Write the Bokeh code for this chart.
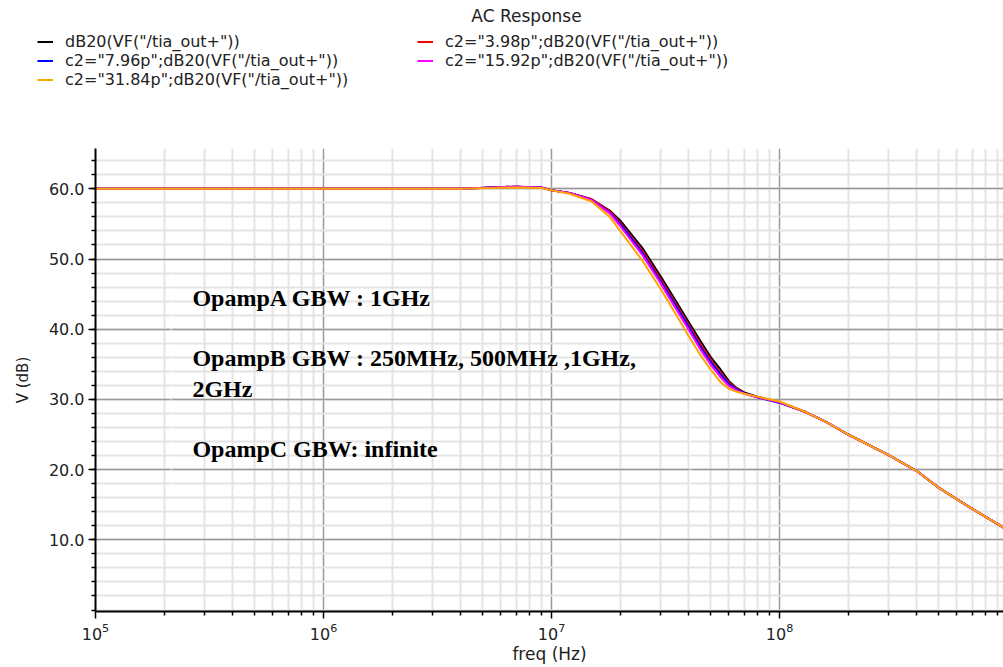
from bokeh.plotting import figure
from bokeh.layouts import column
from bokeh.models import (Legend, LegendItem, BoxAnnotation, Label, FixedTicker,
                          LogTickFormatter, PrintfTickFormatter)
from bokeh.embed import file_html
from bokeh.resources import INLINE

# ---------------- data ----------------
freq_hz = [1e5, 1e6, 4e6, 5.5e6, 7e6, 9e6, 1e7, 1.2e7, 1.5e7, 1.8e7, 2e7, 2.5e7,
           3e7, 3.5e7, 4e7, 4.5e7, 5e7, 5.5e7, 6e7, 6.5e7, 7e7, 8e7, 1e8, 1.3e8,
           1.6e8, 2e8, 3e8, 4e8, 5e8, 7e8, 1e9]

db_base = [60.0, 60.0, 60.0, 60.2, 60.3, 60.2, 59.8, 59.4, 58.5, 56.9, 55.5, 51.6,
           47.6, 44.1, 41.0, 38.3, 36.0, 34.3, 32.6, 31.6, 31.0, 30.4, 29.6, 28.2,
           26.8, 25.0, 22.1, 19.8, 17.4, 14.4, 11.4]
db_c2_3p98 = [60.0, 60.0, 60.0, 60.2, 60.3, 60.2, 59.8, 59.4, 58.5, 56.8, 55.2, 51.2,
              47.2, 43.7, 40.6, 37.9, 35.6, 33.9, 32.4, 31.5, 30.9, 30.3, 29.6, 28.2,
              26.8, 25.0, 22.1, 19.8, 17.4, 14.4, 11.4]
db_c2_7p96 = [60.0, 60.0, 60.0, 60.2, 60.3, 60.2, 59.8, 59.4, 58.4, 56.6, 55.0, 50.9,
              46.9, 43.4, 40.3, 37.5, 35.3, 33.6, 32.2, 31.4, 30.9, 30.3, 29.5, 28.2,
              26.8, 25.0, 22.1, 19.8, 17.4, 14.4, 11.4]
db_c2_15p92 = [60.0, 60.0, 60.0, 60.2, 60.3, 60.2, 59.8, 59.4, 58.4, 56.5, 54.7, 50.6,
               46.6, 43.0, 39.9, 37.1, 34.9, 33.2, 31.9, 31.3, 30.8, 30.3, 29.6, 28.2,
               26.8, 25.0, 22.1, 19.8, 17.4, 14.4, 11.4]
db_c2_31p84 = [60.0, 60.0, 60.0, 60.1, 60.2, 60.1, 59.8, 59.3, 58.2, 56.0, 54.0, 49.8,
               45.8, 42.2, 39.0, 36.3, 34.2, 32.5, 31.5, 31.1, 30.8, 30.4, 29.7, 28.2,
               26.8, 25.0, 22.1, 19.8, 17.4, 14.4, 11.4]

series_values = [db_base, db_c2_3p98, db_c2_7p96, db_c2_15p92, db_c2_31p84]
series_labels = ['dB20(VF("/tia_out+"))',
                 'c2="3.98p";dB20(VF("/tia_out+"))',
                 'c2="7.96p";dB20(VF("/tia_out+"))',
                 'c2="15.92p";dB20(VF("/tia_out+"))',
                 'c2="31.84p";dB20(VF("/tia_out+"))']
series_colors = ["#000000", "#ff0000", "#0000ff", "#ff00ff", "#ffa500"]

y_ticks = [10, 20, 30, 40, 50, 60]
x_ticks = [1e5, 1e6, 1e7, 1e8, 1e9]
note_lines = ["OpampA GBW : 1GHz",
              "OpampB GBW : 250MHz, 500MHz ,1GHz,",
              "2GHz",
              "OpampC GBW:  infinite"]
title_text = "AC Response"

FONT = "DejaVu Sans"
TXT = "#222222"
W, TOP_H, H = 1003, 148, 667

# ---------------- header strip: title + legend ----------------
head = figure(width=W, height=TOP_H, x_range=(0, W), y_range=(0, TOP_H),
              output_backend="svg", toolbar_location=None, title=None,
              min_border=0, x_axis_type=None, y_axis_type=None)
head.frame_align = False
head.outline_line_color = None
head.xgrid.visible = False
head.ygrid.visible = False
head.background_fill_color = "white"
head.border_fill_color = "white"

items = []
for vals, lab, col in zip(series_values, series_labels, series_colors):
    # same series; lies outside this strip's x range, only feeds the legend glyphs
    r = head.line(freq_hz, vals, line_color=col, line_width=2)
    items.append(LegendItem(label=lab, renderers=[r]))

legend = Legend(items=items, orientation="horizontal", ncols=2,
                location=(37, 59), padding=0, margin=0, spacing=0,
                glyph_width=16, glyph_height=15, label_standoff=12,
                label_width=352, label_height=15,
                label_text_font=FONT, label_text_font_size="16px",
                label_text_color=TXT, background_fill_alpha=0,
                border_line_color=None)
head.add_layout(legend, "center")

head.add_layout(Label(x=526, y=TOP_H - 15, text=title_text, text_font=FONT,
                      text_font_size="17px", text_color=TXT, text_align="center",
                      text_baseline="middle"))

# ---------------- main plot ----------------
p = figure(width=W, height=H - TOP_H, x_axis_type="log",
           x_range=(1e5, 9.6e8), y_range=(-0.21, 65.74),
           output_backend="svg", toolbar_location=None, title=None,
           min_border_left=95, min_border_right=0, min_border_top=0,
           min_border_bottom=56)
p.frame_align = False
p.outline_line_color = None
p.background_fill_color = "white"
p.border_fill_color = "white"

x_minor = [k * d for d in [1e5, 1e6, 1e7, 1e8] for k in range(2, 10)]
y_minor = list(range(0, 66, 2))
xt = FixedTicker(ticks=x_ticks, minor_ticks=x_minor)
yt = FixedTicker(ticks=y_ticks, minor_ticks=y_minor)

p.xaxis.ticker = xt
p.yaxis.ticker = yt
p.xgrid.ticker = xt
p.ygrid.ticker = yt
p.xaxis.formatter = LogTickFormatter()
p.yaxis.formatter = PrintfTickFormatter(format="%.1f")

for g in (p.xgrid, p.ygrid):
    g.grid_line_color = "#999999"
    g.grid_line_width = 1.5
    g.minor_grid_line_color = "#e4e4e4"
    g.minor_grid_line_width = 2

for ax in (p.xaxis, p.yaxis):
    ax.axis_line_color = "black"
    ax.axis_line_width = 2
    ax.major_tick_line_color = "black"
    ax.minor_tick_line_color = "black"
    ax.major_tick_line_width = 1.5
    ax.minor_tick_line_width = 1.5
    ax.major_tick_in = 0
    ax.major_tick_out = 7
    ax.minor_tick_in = 0
    ax.minor_tick_out = 4
    ax.major_label_text_font = FONT
    ax.major_label_text_font_size = "16px"
    ax.major_label_text_color = TXT
    ax.axis_label_text_font = FONT
    ax.axis_label_text_font_style = "normal"
    ax.axis_label_text_color = TXT

p.xaxis.axis_label = "freq (Hz)"
p.xaxis.axis_label_text_font_size = "17px"
p.xaxis.axis_label_standoff = 1
p.xaxis.major_label_standoff = 4
p.yaxis.axis_label = "V (dB)"
p.yaxis.axis_label_text_font_size = "15px"
p.yaxis.axis_label_standoff = 14
p.yaxis.major_label_standoff = 4

# white outline of the pasted text box
p.add_layout(BoxAnnotation(left=2.15e5, right=4.06e7, top=49.0, bottom=16.86,
                           fill_alpha=0, line_color="white", line_width=3,
                           level="underlay"))

for vals, col in zip(series_values, series_colors):
    p.line(freq_hz, vals, line_color=col, line_width=2)

note_y = [44.43, 35.86, 31.43, 23.0]
for txt, yv in zip(note_lines, note_y):
    p.add_layout(Label(x=2.66e5, y=yv, text=txt, text_font="Liberation Serif",
                       text_font_style="bold", text_font_size="24px",
                       text_color="black", text_baseline="alphabetic"))

layout = column(head, p, spacing=0)
open("out.html", "w").write(file_html(layout, INLINE))
